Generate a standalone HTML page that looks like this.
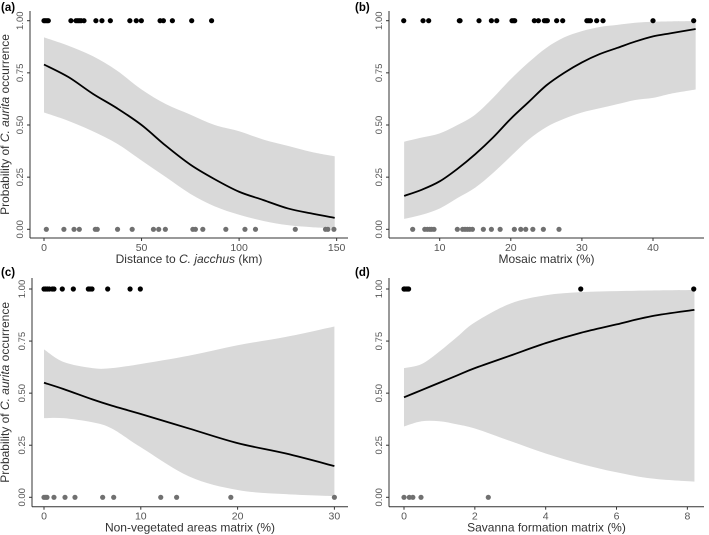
<!DOCTYPE html>
<html><head><meta charset="utf-8"><style>
html,body{margin:0;padding:0;background:#fff}
svg{display:block;font-family:"Liberation Sans",sans-serif}
</style></head><body>
<svg id="chart" width="709" height="535" viewBox="0 0 709 535"></svg>
<script>
// Panel (a) data
const aFitX=[0,12.5,25,37.5,50,62.5,75,87.5,100,112.5,125,137.5,149];
const aFit=[.79,.73,.65,.58,.50,.40,.31,.24,.18,.14,.10,.075,.055];
const aUp=[.92,.88,.83,.76,.67,.60,.55,.50,.47,.43,.40,.37,.35];
const aLo=[.56,.52,.47,.41,.33,.25,.17,.11,.07,.04,.02,.01,.005];
const aOnes=[0,0.7,1.5,2.2,13.8,16.4,17.3,18.1,19,20.5,26.6,29.7,34,44,47.3,49.9,59.5,61.2,65.8,75.7,85.9];
const aZeros=[1.2,10.2,15.4,18.1,26.3,27.3,37.7,45.2,56.1,58.8,62.2,76.3,77.6,81.4,93.2,103,108.4,128.8,144.3,145.5,148.6];
const aTicks=[0,50,100,150];
// Panel (b) data
const bFitX=[5,7.5,10,12.5,15,17.5,20,22.5,25,27.5,30,32.5,35,37.5,40,42.5,46];
const bFit=[.16,.19,.23,.29,.36,.44,.53,.61,.69,.75,.80,.84,.87,.90,.925,.94,.96];
const bUp=[.42,.44,.46,.50,.55,.63,.72,.80,.87,.92,.95,.97,.98,.99,.995,.997,.998];
const bLo=[.05,.07,.10,.15,.20,.27,.35,.43,.49,.53,.56,.58,.60,.62,.63,.65,.67];
const bOnes=[4.94,7.66,8.45,12.76,12.86,15.53,17.27,18.02,20.17,20.4,20.55,23.31,23.88,24.72,24.95,25.14,26.45,27.3,30.7,30.95,31.2,32.08,32.97,40,45.72];
const bZeros=[6.2,7.9,8.26,8.6,8.87,9.2,12.48,13.23,13.56,13.89,14.22,14.6,16.14,17.27,18.5,20.5,21.4,22.1,23.1,24.58,26.78];
const bTicks=[10,20,30,40];
// Panel (c) data
const cFitX=[0,2,5,7,10,15,20,25,30];
const cFit=[.55,.52,.47,.44,.40,.33,.26,.21,.15];
const cUp=[.71,.65,.62,.62,.64,.68,.73,.77,.82];
const cLo=[.38,.38,.36,.33,.24,.10,.035,.015,.005];
const cOnes=[0,0.17,0.34,0.55,0.86,1.03,1.89,3.03,4.58,4.75,4.96,6.58,8.89,9.95];
const cZeros=[0,0.17,0.31,1.03,2.17,3.2,6.06,7.2,12.06,13.7,19.3,30];
const cTicks=[0,10,20,30];
// Panel (d) data
const dFitX=[0,0.5,1,1.5,2,3,4,5,6,7,8.2];
const dFit=[.48,.515,.55,.585,.62,.68,.74,.79,.83,.87,.90];
const dUp=[.62,.64,.70,.77,.84,.93,.97,.985,.99,.993,.995];
const dLo=[.34,.365,.365,.35,.33,.27,.21,.16,.12,.09,.075];
const dOnes=[0,0.02,0.06,0.1,0.13,4.99,8.18];
const dZeros=[0,0.15,0.25,0.48,2.38];
const dTicks=[0,2,4,6,8];
const yTicks=[0,0.25,0.5,0.75,1];
const yTickLabels=["0.00","0.25","0.50","0.75","1.00"];

const svg=document.getElementById('chart');
const NS='http://www.w3.org/2000/svg';
function mk(tag,attrs,parent){const e=document.createElementNS(NS,tag);for(const k in attrs)e.setAttribute(k,attrs[k]);(parent||svg).appendChild(e);return e;}
// Catmull-Rom smoothing through pixel points
function smooth(pts,move){
  let d=(move?'M':'L')+pts[0][0].toFixed(2)+','+pts[0][1].toFixed(2);
  for(let i=0;i<pts.length-1;i++){
    const p0=pts[Math.max(0,i-1)],p1=pts[i],p2=pts[i+1],p3=pts[Math.min(pts.length-1,i+2)];
    const c1=[p1[0]+(p2[0]-p0[0])/6,p1[1]+(p2[1]-p0[1])/6];
    const c2=[p2[0]-(p3[0]-p1[0])/6,p2[1]-(p3[1]-p1[1])/6];
    d+='C'+c1[0].toFixed(2)+','+c1[1].toFixed(2)+' '+c2[0].toFixed(2)+','+c2[1].toFixed(2)+' '+p2[0].toFixed(2)+','+p2[1].toFixed(2);
  }
  return d;
}

function panel(p){
  const g=mk('g',{});
  
  
  const sx=v=>p.x0+v*p.kx, sy=v=>p.y0-v*p.ky;
  const upPts=p.fx.map((x,i)=>[sx(x),sy(p.up[i])]);
  const loPts=p.fx.map((x,i)=>[sx(x),sy(p.lo[i])]).reverse();
  const band=mk('path',{d:smooth(upPts,true)+smooth(loPts,false)+'Z',fill:'#d9d9d9'},g);
  
  
  const fitPts=p.fx.map((x,i)=>[sx(x),sy(p.fit[i])]);
  const line=mk('path',{d:smooth(fitPts,true),fill:'none',stroke:'#000','stroke-width':1.8},g);
  
  
  p.zeros.forEach(v=>{const c=mk('circle',{cx:sx(v),cy:sy(0),r:2.6,fill:'#707070'},g);
    
    });
  p.ones.forEach(v=>{const c=mk('circle',{cx:sx(v),cy:sy(1),r:2.6,fill:'#000'},g);
    
    });
  const ya=mk('line',{x1:p.ax,y1:p.top,x2:p.ax,y2:p.bx,stroke:'#333','stroke-width':1},g);
  
  
  const xa=mk('line',{x1:p.ax,y1:p.bx,x2:p.right,y2:p.bx,stroke:'#333','stroke-width':1},g);
  
  
  yTicks.forEach((v,i)=>{
    mk('line',{x1:p.ax-3,y1:sy(v),x2:p.ax,y2:sy(v),stroke:'#333'},g);
    const t=mk('text',{x:p.ax-7,y:sy(v),transform:`rotate(-90 ${p.ax-7} ${sy(v)})`,'text-anchor':'middle','font-size':9.5,fill:'#555'},g);
    t.textContent=yTickLabels[i];
    
    
  });
  p.ticks.forEach(v=>{
    mk('line',{x1:sx(v),y1:p.bx,x2:sx(v),y2:p.bx+3,stroke:'#333'},g);
    const t=mk('text',{x:sx(v),y:p.bx+13,'text-anchor':'middle','font-size':10.5,fill:'#555'},g);
    t.textContent=v;
    
    
  });
  const xt=mk('text',{x:(p.ax+p.right)/2,y:p.bx+25,'text-anchor':'middle','font-size':12,fill:'#333'},g);
  xt.innerHTML=p.xlabel;
  
  
  const pl=mk('text',{x:p.lx,y:p.ly,'font-size':11.5,'font-weight':'bold',fill:'#000'},g);
  pl.textContent=p.tag;
  
  
  if(p.ytitle){
    const cy=(p.top+p.bx)/2;
    const yt=mk('text',{x:9,y:cy,transform:`rotate(-90 9 ${cy})`,'text-anchor':'middle','font-size':12,fill:'#333'},g);
    yt.innerHTML='Probability of <tspan font-style="italic">C. aurita</tspan> occurrence';
    
    
  }
}
panel({id:'a',tag:'(a)',lx:1,ly:11,x0:44,kx:1.951,y0:229.3,ky:208.6,ax:30,bx:238,top:11,right:348,
  fx:aFitX,fit:aFit,up:aUp,lo:aLo,ones:aOnes,zeros:aZeros,ticks:aTicks,ytitle:true,
  xlabel:'Distance to <tspan font-style="italic">C. jacchus</tspan> (km)'});
panel({id:'b',tag:'(b)',lx:355,ly:11,x0:368.6,kx:7.11,y0:229.3,ky:208.6,ax:389,bx:238,top:11,right:704,
  fx:bFitX,fit:bFit,up:bUp,lo:bLo,ones:bOnes,zeros:bZeros,ticks:bTicks,ytitle:false,
  xlabel:'Mosaic matrix (%)'});
panel({id:'c',tag:'(c)',lx:1,ly:276,x0:44,kx:9.68,y0:497.3,ky:208.3,ax:32,bx:506.7,top:278,right:348,
  fx:cFitX,fit:cFit,up:cUp,lo:cLo,ones:cOnes,zeros:cZeros,ticks:cTicks,ytitle:true,
  xlabel:'Non-vegetated areas matrix (%)'});
panel({id:'d',tag:'(d)',lx:355,ly:276,x0:404,kx:35.42,y0:497.3,ky:208.3,ax:389,bx:506.7,top:278,right:704,
  fx:dFitX,fit:dFit,up:dUp,lo:dLo,ones:dOnes,zeros:dZeros,ticks:dTicks,ytitle:false,
  xlabel:'Savanna formation matrix (%)'});
</script>
</body></html>
